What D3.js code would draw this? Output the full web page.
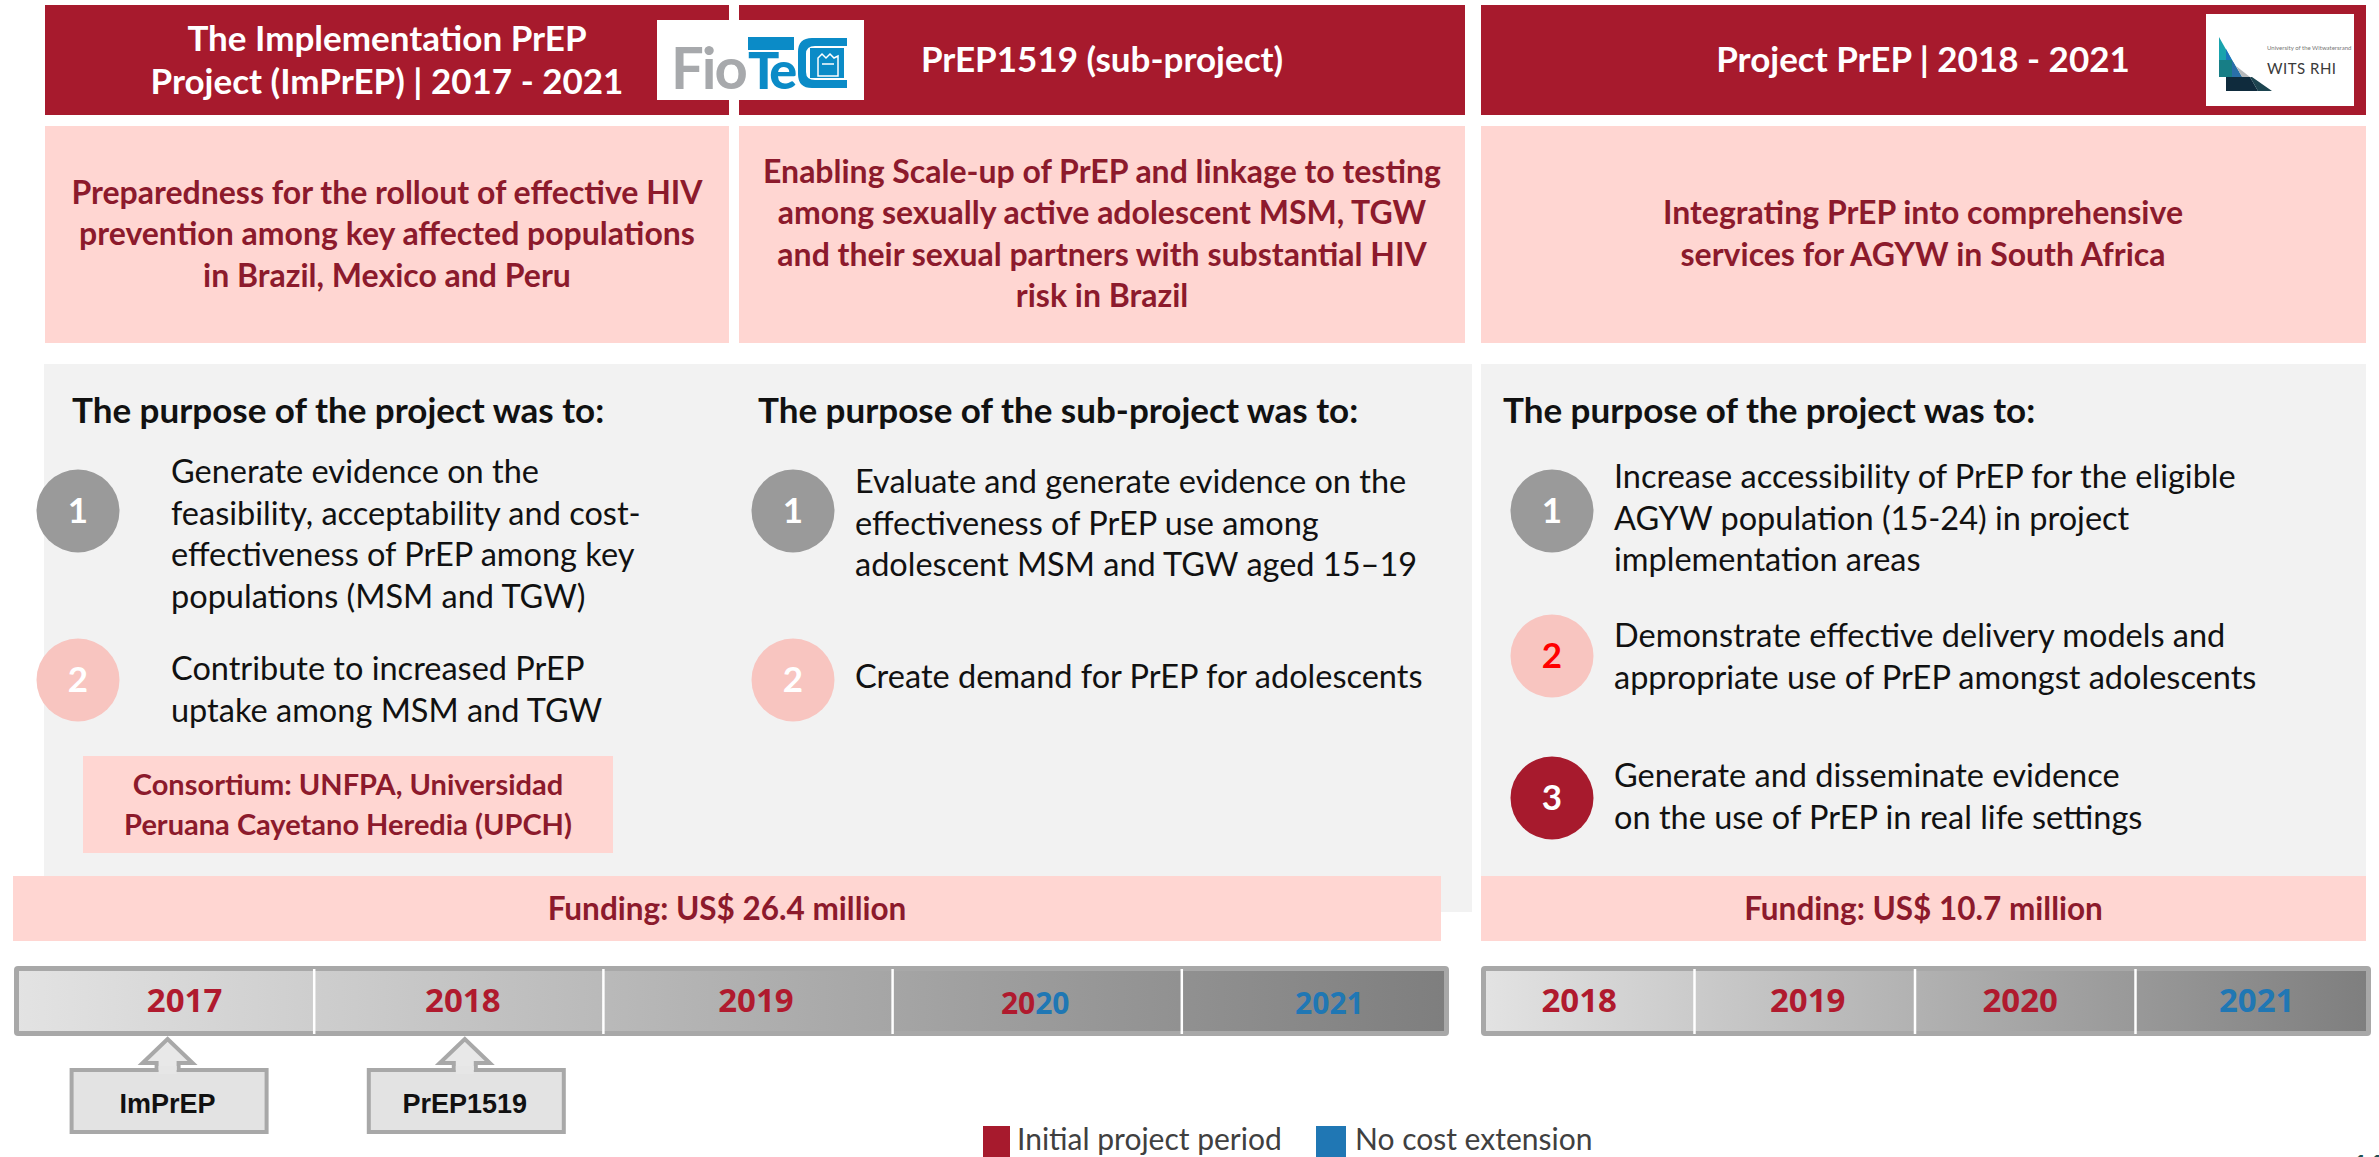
<!DOCTYPE html>
<html><head><meta charset="utf-8">
<script src="https://cdn.jsdelivr.net/npm/d3@7"></script>
<style>body{margin:0;background:#fff}svg{display:block}</style>
</head><body><svg id="c" width="2379" height="1157"></svg>
<script>
// ---------------- DATA ----------------
const headerTitles = [
  ["The Implementation PrEP", "Project (ImPrEP) | 2017 - 2021"],
  ["PrEP1519 (sub-project)"],
  ["Project PrEP | 2018 - 2021"]
];
const subtitles = [
  ["Preparedness for the rollout of effective HIV", "prevention among key affected populations", "in Brazil, Mexico and Peru"],
  ["Enabling Scale-up of PrEP and linkage to testing", "among sexually active adolescent MSM, TGW", "and their sexual partners with substantial HIV", "risk in Brazil"],
  ["Integrating PrEP into comprehensive", "services for AGYW in South Africa"]
];
const purposeHeads = ["The purpose of the project was to:", "The purpose of the sub-project was to:", "The purpose of the project was to:"];
const objectives1 = [
  ["Generate evidence on the", "feasibility, acceptability and cost-", "effectiveness of PrEP among key", "populations (MSM and TGW)"],
  ["Contribute to increased PrEP", "uptake among MSM and TGW"]
];
const objectives2 = [
  ["Evaluate and generate evidence on the", "effectiveness of PrEP use among", "adolescent MSM and TGW aged 15\u201319"],
  ["Create demand for PrEP for adolescents"]
];
const objectives3 = [
  ["Increase accessibility of PrEP for the eligible", "AGYW population (15-24) in project", "implementation areas"],
  ["Demonstrate effective delivery models and", "appropriate use of PrEP amongst adolescents"],
  ["Generate and disseminate evidence", "on the use of PrEP in real life settings"]
];
const consortium = ["Consortium: UNFPA, Universidad", "Peruana Cayetano Heredia (UPCH)"];
const fundingLabels = ["Funding: US$ 26.4 million", "Funding: US$ 10.7 million"];
const timeline1Years = ["2017", "2018", "2019", "2020", "2021"];
const timeline1Phase = ["initial", "initial", "initial", "split", "extension"];
const timeline2Years = ["2018", "2019", "2020", "2021"];
const timeline2Phase = ["initial", "initial", "initial", "extension"];
const callouts = [{label: "ImPrEP", year: "2017"}, {label: "PrEP1519", year: "2018"}];
const legendItems = ["Initial project period", "No cost extension"];

// ---------------- STYLE / LAYOUT ----------------
const COL = {red: "#a71a2d", darkRed: "#8c1a2c", pink: "#ffd6d2", panel: "#f2f2f2",
  cGray: "#9a9a9a", cPink: "#f8c5c0", cRed: "#a71a2d", blue: "#2077b4", yearRed: "#b01a2e", text: "#111"};
const F = "Lato, 'Open Sans', sans-serif";
const svg = d3.select("#c");
const defs = svg.append("defs");

const cols = [{x: 45, w: 684, cx: 387}, {x: 739, w: 726, cx: 1102}, {x: 1481, w: 885, cx: 1923}];

// header bars
svg.selectAll("rect.hdr").data(cols).join("rect").attr("class", "hdr")
  .attr("x", d => d.x).attr("y", 5).attr("width", d => d.w).attr("height", 110).attr("fill", COL.red);
headerTitles.forEach((lines, i) => {
  const n = lines.length;
  const t = svg.append("text").attr("text-anchor", "middle").attr("fill", "#fff")
    .attr("font-family", F).attr("font-weight", 700).attr("font-size", 35);
  t.selectAll("tspan").data(lines).join("tspan")
    .attr("x", cols[i].cx).attr("y", (d, j) => 72 + (j - (n - 1) / 2) * 43).text(d => d);
});

// Fiotec logo
const fio = svg.append("g");
fio.append("rect").attr("x", 657).attr("y", 20).attr("width", 207).attr("height", 80).attr("fill", "#fff");
fio.append("text").attr("x", 671).attr("y", 89).attr("font-family", F).attr("font-weight", 700)
  .attr("font-size", 58).attr("fill", "#a7a9ac").attr("letter-spacing", -2).text("Fio");
fio.append("rect").attr("x", 748).attr("y", 37).attr("width", 46).attr("height", 13).attr("fill", "#0b8bc7");
fio.append("text").attr("x", 748).attr("y", 89).attr("font-family", F).attr("font-weight", 900)
  .attr("font-size", 52).attr("fill", "#0b8bc7").attr("letter-spacing", -4).text("Te");
fio.append("path").attr("d", "M847,38 L812,38 Q798,38 798,52 L798,74 Q798,88 812,88 L847,88 L847,80 L815,80 Q806,80 806,72 L806,54 Q806,46 815,46 L847,46 Z")
  .attr("fill", "#0b8bc7");
fio.append("rect").attr("x", 810).attr("y", 48).attr("width", 34).attr("height", 30).attr("fill", "#0b8bc7");
fio.append("path").attr("d", "M818,76 L818,58 L822,54 L826,58 L830,54 L834,58 L838,56 L838,76 Z M822,64 L834,64")
  .attr("fill", "none").attr("stroke", "#fff").attr("stroke-width", 1.5);

// WITS RHI logo
const wits = svg.append("g");
wits.append("rect").attr("x", 2206).attr("y", 14).attr("width", 148).attr("height", 92).attr("fill", "#fff");
const witsPieces = [
  ["M2219,37 L2232,60 L2219,60 Z", "#19a3ad"],
  ["M2232,60 L2226,49 L2226,60 Z", "#1c75bc"],
  ["M2219,60 L2232,60 L2242,77 L2219,77 Z", "#177e86"],
  ["M2232,60 L2242,77 L2232,77 Z", "#2a6fa8"],
  ["M2242,77 L2236,66 L2250,77 Z", "#b7b9bb"],
  ["M2226,77 L2250,77 L2258,91 L2226,91 Z", "#0f2b3d"],
  ["M2244,77 L2250,77 L2258,91 L2272,91 L2252,77 Z", "#1d4450"]
];
wits.selectAll("path").data(witsPieces).join("path").attr("d", d => d[0]).attr("fill", d => d[1]);
wits.append("text").attr("x", 2267).attr("y", 50).attr("font-family", F).attr("font-size", 6)
  .attr("fill", "#777").text("University of the Witwatersrand");
wits.append("text").attr("x", 2267).attr("y", 74).attr("font-family", F).attr("font-size", 15)
  .attr("fill", "#3a3a3a").attr("letter-spacing", 0.5).text("WITS RHI");

// subtitle boxes
svg.selectAll("rect.sub").data(cols).join("rect").attr("class", "sub")
  .attr("x", d => d.x).attr("y", 126).attr("width", d => d.w).attr("height", 217).attr("fill", COL.pink);
subtitles.forEach((lines, i) => {
  const n = lines.length;
  const t = svg.append("text").attr("text-anchor", "middle").attr("fill", COL.darkRed)
    .attr("font-family", F).attr("font-weight", 700).attr("font-size", 32);
  t.selectAll("tspan").data(lines).join("tspan")
    .attr("x", cols[i].cx).attr("y", (d, j) => 245 + (j - (n - 1) / 2) * 41.5).text(d => d);
});

// grey panels
svg.append("rect").attr("x", 44).attr("y", 364).attr("width", 1428).attr("height", 548).attr("fill", COL.panel);
svg.append("rect").attr("x", 1481).attr("y", 364).attr("width", 885).attr("height", 520).attr("fill", COL.panel);

// purpose heads
const headX = [72, 758, 1503];
svg.selectAll("text.ph").data(purposeHeads).join("text").attr("class", "ph")
  .attr("x", (d, i) => headX[i]).attr("y", 423).attr("font-family", F).attr("font-weight", 700)
  .attr("font-size", 35).attr("fill", COL.text).text(d => d);

// objectives
const circleStyles = [{fill: COL.cGray}, {fill: COL.cPink}, {fill: COL.cRed}];
const objLayout = [
  {data: objectives1, cx: 78, tx: 171, items: [{cy: 511, base: 483}, {cy: 680, base: 680}], styles: [0, 1], numColors: ["#fff", "#fff"]},
  {data: objectives2, cx: 793, tx: 855, items: [{cy: 511, base: 493}, {cy: 680, base: 688}], styles: [0, 1], numColors: ["#fff", "#fff"]},
  {data: objectives3, cx: 1552, tx: 1614, items: [{cy: 511, base: 488}, {cy: 656, base: 647}, {cy: 798, base: 787}], styles: [0, 1, 2], numColors: ["#fff", "#ff0000", "#fff"]}
];
objLayout.forEach(col => {
  col.data.forEach((lines, k) => {
    const it = col.items[k];
    const st = circleStyles[col.styles[k]];
    svg.append("circle").attr("cx", col.cx).attr("cy", it.cy).attr("r", 41.5).attr("fill", st.fill);
    svg.append("text").attr("x", col.cx).attr("y", it.cy + 12).attr("text-anchor", "middle")
      .attr("font-family", F).attr("font-weight", 700).attr("font-size", 35)
      .attr("fill", col.numColors[k]).text(k + 1);
    const t = svg.append("text").attr("font-family", F).attr("font-size", 32.5).attr("fill", COL.text);
    t.selectAll("tspan").data(lines).join("tspan").attr("x", col.tx)
      .attr("y", (d, j) => it.base + j * 41.5).text(d => d);
  });
});

// consortium box
svg.append("rect").attr("x", 83).attr("y", 756).attr("width", 530).attr("height", 97).attr("fill", COL.pink);
svg.append("text").attr("text-anchor", "middle").attr("font-family", F).attr("font-weight", 700)
  .attr("font-size", 29).attr("fill", COL.darkRed)
  .selectAll("tspan").data(consortium).join("tspan").attr("x", 348).attr("y", (d, j) => 795 + j * 40).text(d => d);

// funding boxes
const fundBoxes = [{x: 13, w: 1428}, {x: 1481, w: 885}];
svg.selectAll("rect.fund").data(fundBoxes).join("rect").attr("class", "fund")
  .attr("x", d => d.x).attr("y", 876).attr("width", d => d.w).attr("height", 65).attr("fill", COL.pink);
svg.selectAll("text.fund").data(fundingLabels).join("text").attr("class", "fund")
  .attr("x", (d, i) => fundBoxes[i].x + fundBoxes[i].w / 2).attr("y", 920).attr("text-anchor", "middle")
  .attr("font-family", F).attr("font-weight", 700).attr("font-size", 31.5).attr("fill", COL.darkRed).text(d => d);

// timelines
function drawTimeline(id, years, phases, x0, x1, range, textShift, sizes) {
  const g = svg.append("g");
  const grad = defs.append("linearGradient").attr("id", id).attr("gradientUnits", "userSpaceOnUse")
    .attr("x1", x0).attr("x2", x1).attr("y1", 0).attr("y2", 0);
  grad.append("stop").attr("offset", 0).attr("stop-color", "#e3e3e3");
  grad.append("stop").attr("offset", 1).attr("stop-color", "#7e7e7e");
  g.append("rect").attr("x", x0).attr("y", 966).attr("width", x1 - x0).attr("height", 70)
    .attr("rx", 4).attr("fill", "#a8a8a8");
  g.append("rect").attr("x", x0 + 5).attr("y", 971).attr("width", x1 - x0 - 10).attr("height", 60)
    .attr("fill", `url(#${id})`);
  const xs = d3.scaleBand().domain(years).range(range);
  g.selectAll("line").data(years.slice(1)).join("line")
    .attr("x1", d => xs(d)).attr("x2", d => xs(d)).attr("y1", 969).attr("y2", 1034)
    .attr("stroke", "#fff").attr("stroke-width", 2.5);
  years.forEach((y, i) => {
    const t = g.append("text").attr("x", xs(y) + xs.bandwidth() / 2 + textShift[i])
      .attr("y", sizes[i] > 31 ? 1012 : 1014).attr("text-anchor", "middle")
      .attr("font-family", "'Open Sans', sans-serif").attr("font-weight", 700).attr("font-size", sizes[i]);
    if (phases[i] === "split") {
      t.append("tspan").attr("fill", COL.yearRed).text(y.slice(0, 2));
      t.append("tspan").attr("fill", COL.blue).text(y.slice(2));
    } else {
      t.attr("fill", phases[i] === "extension" ? COL.blue : COL.yearRed).text(y);
    }
  });
  return xs;
}
const xs1 = drawTimeline("tg1", timeline1Years, timeline1Phase, 14, 1449, [25, 1471], [15, 4, 8, -2, 3], [33, 33, 33, 30, 30]);
drawTimeline("tg2", timeline2Years, timeline2Phase, 1481, 2371, [1474, 2356], [-5, 3, -5, 11], [33, 33, 33, 33]);

// callouts
const calloutShift = [-2, 6];
callouts.forEach((c, i) => {
  const cx = xs1(c.year) + xs1.bandwidth() / 2 + calloutShift[i];
  const g = svg.append("g");
  g.append("rect").attr("x", cx - 96).attr("y", 1070).attr("width", 195).attr("height", 62)
    .attr("fill", "#e3e3e3").attr("stroke", "#a8a8a8").attr("stroke-width", 4);
  g.append("path")
    .attr("d", `M${cx - 11},1070 L${cx - 11},1063 L${cx - 25},1063 L${cx},1039 L${cx + 25},1063 L${cx + 11},1063 L${cx + 11},1070`)
    .attr("fill", "#e8e8e8").attr("stroke", "#a8a8a8").attr("stroke-width", 4).attr("stroke-linejoin", "miter");
  g.append("rect").attr("x", cx - 9).attr("y", 1066).attr("width", 18).attr("height", 8).attr("fill", "#e6e6e6");
  g.append("text").attr("x", cx).attr("y", 1113).attr("text-anchor", "middle")
    .attr("font-family", "'Liberation Sans', Arial, sans-serif").attr("font-weight", 700)
    .attr("font-size", 27).attr("fill", "#111").text(c.label);
});

// legend
const legendSw = [{x: 983, w: 27, fill: COL.red, tx: 1017}, {x: 1316, w: 30, fill: COL.blue, tx: 1355}];
svg.selectAll("rect.leg").data(legendItems).join("rect").attr("class", "leg")
  .attr("x", (d, i) => legendSw[i].x).attr("y", 1126).attr("width", (d, i) => legendSw[i].w)
  .attr("height", 40).attr("fill", (d, i) => legendSw[i].fill);
svg.selectAll("text.leg").data(legendItems).join("text").attr("class", "leg")
  .attr("x", (d, i) => legendSw[i].tx).attr("y", 1150).attr("font-family", F).attr("font-size", 30)
  .attr("fill", "#404040").text(d => d);

// page number (cut off at the bottom edge, as in the source slide)
svg.append("text").attr("x", 2352).attr("y", 1176).attr("font-family", F).attr("font-weight", 700)
  .attr("font-size", 28).attr("fill", "#1d4f4f").text("11");
</script></body></html>
